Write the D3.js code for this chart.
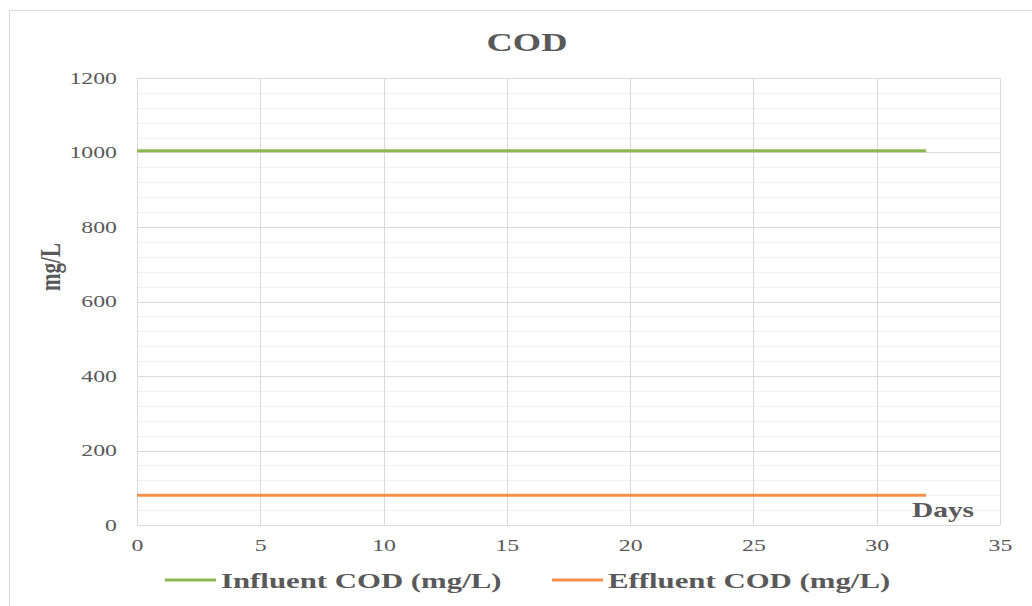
<!DOCTYPE html>
<html>
<head>
<meta charset="utf-8">
<title>COD</title>
<script src="https://d3js.org/d3.v7.min.js"></script>
<style>
body { margin: 0; background: #fff; }
text { font-family: "Liberation Serif", "Times New Roman", serif; fill: #595959; }
.grid-major line { stroke: #d9d9d9; stroke-width: 1; }
.grid-minor line { stroke: #f0f0f0; stroke-width: 1; }
.line { fill: none; stroke-width: 3; }
</style>
</head>
<body>
<script>
// data (days 0..32)
var days = [0,1,2,3,4,5,6,7,8,9,10,11,12,13,14,15,16,17,18,19,20,21,22,23,24,25,26,27,28,29,30,31,32];
var influent = [1005,1005,1005,1005,1005,1005,1005,1005,1005,1005,1005,1005,1005,1005,1005,1005,1005,1005,1005,1005,1005,1005,1005,1005,1005,1005,1005,1005,1005,1005,1005,1005,1005];
var effluent = [80,80,80,80,80,80,80,80,80,80,80,80,80,80,80,80,80,80,80,80,80,80,80,80,80,80,80,80,80,80,80,80,80];
var xTicks = [0,5,10,15,20,25,30,35];
var yTicks = [0,200,400,600,800,1000,1200];
var yMinor = d3.range(0, 1201, 40);
var seriesNames = ["Influent COD (mg/L)", "Effluent COD (mg/L)"];
var seriesColors = ["#8db752", "#f5914a"];

var W = 1032, H = 606;
var margin = {top: 78, right: 32, bottom: 81, left: 137};
var width = W - margin.left - margin.right,
    height = H - margin.top - margin.bottom;
var sx = 1.4; // the source text is stretched sideways

var svg = d3.select("body").append("svg")
    .attr("width", W)
    .attr("height", H);

// outer chart frame
svg.append("rect")
    .attr("x", 9.5).attr("y", 10.5)
    .attr("width", W).attr("height", H)
    .attr("fill", "#fff")
    .attr("stroke", "#d9d9d9");

var g = svg.append("g")
    .attr("transform", "translate(" + margin.left + "," + margin.top + ")");

var x = d3.scaleLinear().domain([0, 35]).range([0, width]);
var y = d3.scaleLinear().domain([0, 1200]).range([height, 0]);

// minor horizontal grid
g.append("g").attr("class", "grid-minor")
  .selectAll("line").data(yMinor.filter(function(d) { return d % 200 !== 0; }))
  .enter().append("line")
    .attr("x1", 0).attr("x2", width)
    .attr("y1", function(d) { return Math.round(y(d)) + 0.5; })
    .attr("y2", function(d) { return Math.round(y(d)) + 0.5; });

// major grid
var major = g.append("g").attr("class", "grid-major");
major.selectAll(".h").data(yTicks).enter().append("line")
    .attr("x1", 0).attr("x2", width)
    .attr("y1", function(d) { return Math.round(y(d)) + 0.5; })
    .attr("y2", function(d) { return Math.round(y(d)) + 0.5; });
major.selectAll(".v").data(xTicks).enter().append("line")
    .attr("y1", 0).attr("y2", height)
    .attr("x1", function(d) { return Math.round(x(d)) + 0.5; })
    .attr("x2", function(d) { return Math.round(x(d)) + 0.5; });

// axes
var xAxis = g.append("g")
    .attr("transform", "translate(0," + height + ")")
    .call(d3.axisBottom(x).tickValues(xTicks).tickFormat(d3.format("d")).tickSize(0).tickPadding(14));
var yAxis = g.append("g")
    .call(d3.axisLeft(y).tickValues(yTicks).tickFormat(d3.format("d")).tickSize(0).tickPadding(20));
[xAxis, yAxis].forEach(function(a) {
  a.select(".domain").remove();
  a.selectAll("text")
    .style("font-family", "'Liberation Serif', serif")
    .style("font-size", "17px")
    .attr("fill", "#595959")
    .attr("x", function() { return (+d3.select(this).attr("x") || 0) / sx; })
    .attr("transform", "scale(" + sx + ",1)");
});

// lines
var line = d3.line()
    .x(function(d, i) { return x(days[i]); })
    .y(function(d) { return y(d); });

[influent, effluent].forEach(function(s, i) {
  g.append("path")
    .datum(s)
    .attr("class", "line")
    .attr("stroke", seriesColors[i])
    .attr("d", line);
});

// title and axis labels
svg.append("text")
    .attr("transform", "translate(527,51) scale(" + sx + ",1)")
    .attr("text-anchor", "middle")
    .style("font-size", "26px").style("font-weight", "bold")
    .text("COD");

svg.append("text")
    .attr("transform", "translate(60,267) scale(" + sx + ",1) rotate(-90)")
    .attr("text-anchor", "middle")
    .style("font-size", "21px").style("font-weight", "bold")
    .text("mg/L");

svg.append("text")
    .attr("transform", "translate(943,517) scale(" + sx + ",1)")
    .attr("text-anchor", "middle")
    .style("font-size", "21px").style("font-weight", "bold")
    .text("Days");

// legend
var legendX = [165, 552];
var legend = svg.selectAll(".legend").data(seriesNames).enter().append("g")
    .attr("transform", function(d, i) { return "translate(" + legendX[i] + ",580)"; });
legend.append("line")
    .attr("x1", 0).attr("x2", 51)
    .attr("y1", 0).attr("y2", 0)
    .attr("stroke", function(d, i) { return seriesColors[i]; })
    .attr("stroke-width", 3);
legend.append("text")
    .attr("transform", "translate(56,8) scale(" + sx + ",1)")
    .style("font-size", "22px").style("font-weight", "bold")
    .text(function(d) { return d; });
</script>
</body>
</html>
